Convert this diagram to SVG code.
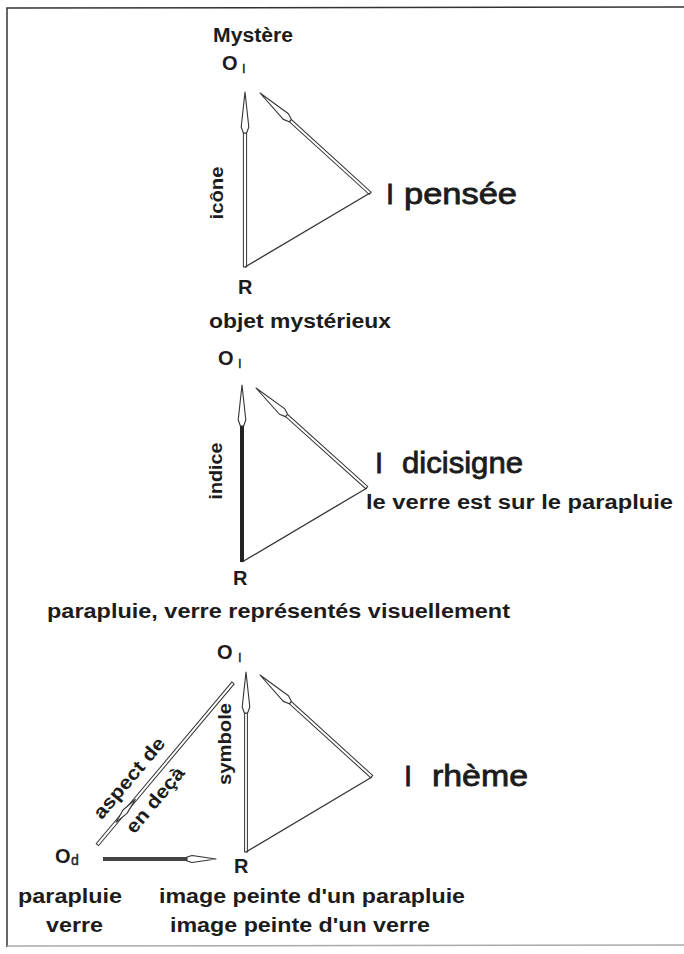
<svg xmlns="http://www.w3.org/2000/svg" xmlns:xlink="http://www.w3.org/1999/xlink" width="684" height="954" viewBox="0 0 684 954">
<style>
.lbl{font-family:"Liberation Sans",Arial,sans-serif;font-weight:bold;font-size:20px;fill:#1c1c1c}
.big{font-family:"Liberation Sans",Arial,sans-serif;font-size:29px;fill:#1c1c1c;stroke:#1c1c1c;stroke-width:0.8}
.rot{font-size:18px}
.sub{font-size:13px;font-weight:normal;stroke:#1c1c1c;stroke-width:0.4}
.thin{stroke:#333;stroke-width:1.3;fill:none}
.dbl{fill:#fff;stroke:#333;stroke-width:1}
.head{fill:#fff;stroke:#333;stroke-width:1.1;stroke-linejoin:round}
.solid{fill:#222}
.frame{stroke:#333;stroke-width:1.5;fill:none}
</style>
<defs>
<path id="hd" class="head" d="M0,0 L3.8,35 L1.6,41 L-1.6,41 L-3.8,35 Z"/>
</defs>
<rect width="684" height="954" fill="#fff"/>
<path class="frame" d="M7,947 L7,8 L684,7"/>
<path d="M7,946 L684,945" stroke="#aaa" stroke-width="1.5" fill="none"/>

<g id="connectors">
  <g transform="translate(245,92)"><rect class="dbl" x="-1.6" y="41" width="3.2" height="134"/><use xlink:href="#hd"/></g>
  <g transform="translate(260,93) rotate(-47.7)"><rect class="dbl" x="-1.5" y="41" width="3" height="108"/><use xlink:href="#hd"/></g>
  <line class="thin" x1="370" y1="193" x2="245" y2="267"/>

  <g transform="translate(242,385)"><rect class="solid" x="-2" y="40" width="4" height="137"/><use xlink:href="#hd"/></g>
  <g transform="translate(256,388) rotate(-48)"><rect class="dbl" x="-1.5" y="41" width="3" height="108"/><use xlink:href="#hd"/></g>
  <line class="thin" x1="367" y1="488" x2="242" y2="562"/>

  <g transform="translate(246,672)"><rect class="dbl" x="-1.4" y="41" width="2.8" height="139"/><use xlink:href="#hd"/></g>
  <g transform="translate(260,675) rotate(-47.7)"><rect class="dbl" x="-1.5" y="41" width="3" height="110"/><use xlink:href="#hd"/></g>
  <line class="thin" x1="372" y1="777" x2="246" y2="852"/>

  <g transform="translate(233,683) rotate(40)"><rect class="dbl" x="-1.5" y="0" width="3" height="211"/><path class="head" d="M0,152 L2.6,168 L0,182 L-2.6,168 Z"/></g>

  <rect x="103" y="857" width="86" height="4" fill="#444"/>
  <path class="head" d="M216,859 L192,855.5 L187,857 L187,861 L192,862.5 Z"/>
</g>

<g id="node-mystere">
  <text class="lbl" x="213" y="42" textLength="80" lengthAdjust="spacingAndGlyphs">Mystère</text>
  <text class="lbl" x="222" y="70">O<tspan class="sub" x="242" dy="3">I</tspan></text>
</g>
<g id="label-icone"><text class="lbl rot" transform="translate(223,193) rotate(-90)" text-anchor="middle" textLength="53" lengthAdjust="spacingAndGlyphs">icône</text></g>
<g id="node-pensee">
  <text class="big" x="386" y="204">I</text>
  <text class="big" x="404" y="204" textLength="113" lengthAdjust="spacingAndGlyphs">pensée</text>
</g>
<g id="node-objet">
  <text class="lbl" x="238" y="294">R</text>
  <text class="lbl" x="209" y="328" textLength="182" lengthAdjust="spacingAndGlyphs">objet mystérieux</text>
</g>

<g id="node-o2"><text class="lbl" x="218" y="365">O<tspan class="sub" x="238" dy="3">I</tspan></text></g>
<g id="label-indice"><text class="lbl rot" transform="translate(222,471) rotate(-90)" text-anchor="middle" textLength="57" lengthAdjust="spacingAndGlyphs">indice</text></g>
<g id="node-dicisigne">
  <text class="big" x="375" y="473">I</text>
  <text class="big" x="402" y="473" textLength="121" lengthAdjust="spacingAndGlyphs">dicisigne</text>
  <text class="lbl" x="366" y="509" textLength="307" lengthAdjust="spacingAndGlyphs">le verre est sur le parapluie</text>
</g>
<g id="node-r2">
  <text class="lbl" x="233" y="585">R</text>
  <text class="lbl" x="47" y="618" textLength="463" lengthAdjust="spacingAndGlyphs">parapluie, verre représentés visuellement</text>
</g>

<g id="node-o3"><text class="lbl" x="217" y="659">O<tspan class="sub" x="238" dy="3">I</tspan></text></g>
<g id="label-symbole"><text class="lbl rot" transform="translate(231,744) rotate(-90)" text-anchor="middle" textLength="82" lengthAdjust="spacingAndGlyphs">symbole</text></g>
<g id="label-aspect">
  <text class="lbl" style="font-size:19px" transform="translate(134,782) rotate(-50)" text-anchor="middle" textLength="100" lengthAdjust="spacingAndGlyphs">aspect de</text>
  <text class="lbl" style="font-size:19px" transform="translate(160,804) rotate(-50)" text-anchor="middle" textLength="80" lengthAdjust="spacingAndGlyphs">en deçà</text>
</g>
<g id="node-rheme">
  <text class="big" x="404" y="786">I</text>
  <text class="big" x="432" y="786" textLength="96" lengthAdjust="spacingAndGlyphs">rhème</text>
</g>
<g id="node-od">
  <text class="lbl" x="55" y="863">O<tspan class="sub" style="font-size:14px" x="71" dy="2">d</tspan></text>
  <text class="lbl" x="18" y="903" textLength="104" lengthAdjust="spacingAndGlyphs">parapluie</text>
  <text class="lbl" x="46" y="932" textLength="57" lengthAdjust="spacingAndGlyphs">verre</text>
</g>
<g id="node-r3">
  <text class="lbl" x="234" y="873">R</text>
  <text class="lbl" x="159" y="903" textLength="306" lengthAdjust="spacingAndGlyphs">image peinte d'un parapluie</text>
  <text class="lbl" x="170" y="932" textLength="260" lengthAdjust="spacingAndGlyphs">image peinte d'un verre</text>
</g>
</svg>
